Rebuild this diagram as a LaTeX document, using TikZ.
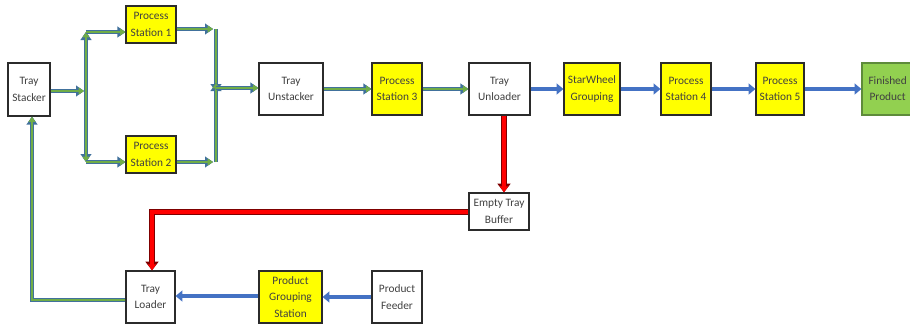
\documentclass[tikz,border=0pt]{standalone}
\usepackage{fontspec}
\setmainfont{Carlito}
\usetikzlibrary{arrows.meta}
\definecolor{txt}{HTML}{404040}
\definecolor{boxc}{HTML}{2B2B2B}
\definecolor{ylw}{HTML}{FFFF00}
\definecolor{gfill}{HTML}{70AD47}
\definecolor{gedge}{HTML}{41719C}
\definecolor{bline}{HTML}{4472C4}
\definecolor{redf}{HTML}{FF0000}
\definecolor{rede}{HTML}{7F0000}
\definecolor{finf}{HTML}{92D050}
\definecolor{fine}{HTML}{5E8B3A}
\tikzset{
  box/.style={draw=boxc, line width=0.9pt, fill=white, inner sep=0pt, align=center,
    text=txt, font=\fontsize{8.5}{12.5}\selectfont},
  ybox/.style={box, fill=ylw},
  gbox/.style={box, fill=finf, draw=fine},
  sz/.style 2 args={minimum width=#1*0.75pt, minimum height=#2*0.75pt},
  gline/.style={preaction={draw=gedge, line width=3.6pt, line join=miter},
    draw=gfill, line width=1.6pt, line join=miter},
  garrow/.style={gline, preaction={draw=gedge, line width=3.6pt, line join=miter,
      -{Triangle[length=6pt,width=8pt]}},
    -{Triangle[length=4pt,width=5pt]}},
  barrow/.style={draw=bline, line width=3pt, -{Triangle[length=5pt,width=8pt]}},
  rarrow/.style={preaction={draw=rede, line width=4.6pt, line join=miter,
      -{Triangle[length=6.5pt,width=9.5pt]}},
    draw=redf, line width=2.4pt, line join=miter, -{Triangle[length=4.6pt,width=6pt]}},
}
\begin{document}
\begin{tikzpicture}[x=0.75pt, y=-0.75pt]
\useasboundingbox (0,0) rectangle (910,326);
% nodes
\node[box, sz={42}{53}] (stk) at (29,89.5) {Tray\\Stacker};
\node[ybox, sz={50}{37}] (ps1) at (151,24.5) {Process\\Station 1};
\node[ybox, sz={50}{37}] (ps2) at (151,154.5) {Process\\Station 2};
\node[box, sz={64}{52}] (uns) at (291,89) {Tray\\Unstacker};
\node[ybox, sz={50}{52}] (ps3) at (397,89) {Process\\Station 3};
\node[box, sz={61}{52}] (unl) at (499.5,89) {Tray\\Unloader};
\node[ybox, sz={56}{52}] (swg) at (592,89) {StarWheel\\Grouping};
\node[ybox, sz={50}{52}] (ps4) at (686,89) {Process\\Station 4};
\node[ybox, sz={48}{52}] (ps5) at (780,89) {Process\\Station 5};
\node[gbox, sz={62}{52}] (fin) at (893,89)
  {\begin{tabular}{@{}c@{}}Finished\\Product\end{tabular}\hspace*{8pt}};
\node[box, sz={60}{37}] (etb) at (499,211.5) {Empty Tray\\Buffer};
\node[box, sz={49}{52}] (tl) at (150.5,297) {Tray\\Loader};
\node[ybox, sz={63}{52}] (pgs) at (290.5,297) {Product\\Grouping\\Station};
\node[box, sz={50}{52}] (pf) at (397,297) {Product\\Feeder};
% junction coordinates
\coordinate (jL) at (84,91);
\coordinate (vL) at (86,91);
\coordinate (tL) at (86,32);
\coordinate (bL) at (86,162);
\coordinate (tR) at (216,29);
\coordinate (bR) at (216,162);
\coordinate (mR) at (216,88);
\coordinate (rc) at (152,212);
\coordinate (gc) at (32,300);
% split / merge
\draw[garrow] (stk.east |- jL) -- (jL);
\draw[garrow] (vL) -- (tL);
\draw[garrow] (vL) -- (bL);
\draw[garrow] (tL) -- (tL -| ps1.west);
\draw[garrow] (bL) -- (bL -| ps2.west);
\draw[garrow] (ps1.east |- tR) -- ([xshift=-3*0.75pt]tR);
\draw[garrow] (ps2.east |- bR) -- ([xshift=-3*0.75pt]bR);
\draw[garrow] (tR) -- ([yshift=-4*0.75pt]mR);
\draw[garrow] (bR) -- ([yshift=5*0.75pt]mR);
\draw[garrow] (mR) -- (mR -| uns.west);
\draw[garrow] (uns) -- (ps3);
\draw[garrow] (ps3) -- (unl);
% blue main line
\draw[barrow] (unl) -- (swg);
\draw[barrow] (swg) -- (ps4);
\draw[barrow] (ps4) -- (ps5);
\draw[barrow] (ps5) -- (fin);
% red empty tray path
\draw[rarrow] ([xshift=4.5*0.75pt]unl.south) -- ([xshift=5*0.75pt]etb.north);
\draw[rarrow] (etb.west |- rc) -- (rc) -- (rc |- tl.north);
% bottom line
\draw[barrow] (pf) -- (pgs);
\draw[barrow] ([yshift=1*0.75pt]pgs.west) -- ([yshift=1*0.75pt]tl.east);
\draw[garrow] (tl.west |- gc) -- (gc) -- (gc |- stk.south);
\end{tikzpicture}
\end{document}
